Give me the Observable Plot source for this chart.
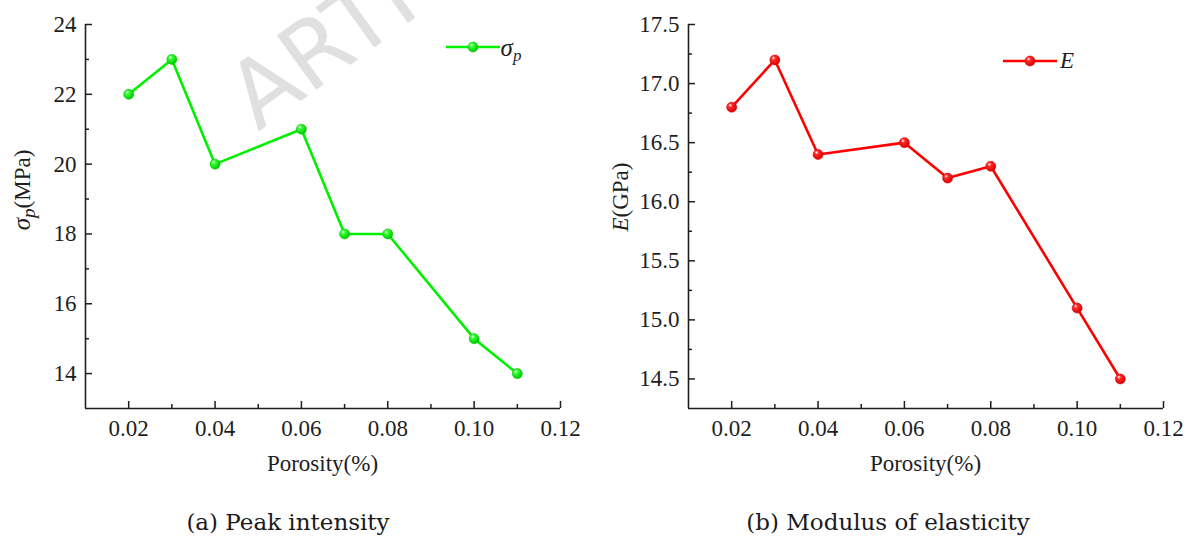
<!DOCTYPE html>
<html>
<head>
<meta charset="utf-8">
<script src="https://cdn.jsdelivr.net/npm/d3@7"></script>
<script src="https://cdn.jsdelivr.net/npm/@observablehq/plot@0.6"></script>
<style>
  html, body { margin: 0; padding: 0; background: #fff; }
  #wrap { position: relative; width: 1190px; height: 538px; overflow: hidden; }
  #bg { position: absolute; left: 0; top: 0; }
  .panel { position: absolute; top: 0; }
</style>
</head>
<body>
<div id="wrap">
  <svg id="bg" width="1190" height="538"></svg>
</div>
<script>
// ---- data ----
const porosity = [0.02, 0.03, 0.04, 0.06, 0.07, 0.08, 0.10, 0.11];
const peakStrength = [22, 23, 20, 21, 18, 18, 15, 14];
const modulus = [16.8, 17.2, 16.4, 16.5, 16.2, 16.3, 15.1, 14.5];

const xDomain = [0.01, 0.12];
const xTicksMajor = [0.02, 0.04, 0.06, 0.08, 0.10, 0.12];
const xTicksMinor = [0.03, 0.05, 0.07, 0.09, 0.11];

const yDomainA = [13, 24];
const yTicksMajorA = [14, 16, 18, 20, 22, 24];
const yTicksMinorA = [15, 17, 19, 21, 23];

const yDomainB = [14.25, 17.5];
const yTicksMajorB = [14.5, 15.0, 15.5, 16.0, 16.5, 17.0, 17.5];
const yTicksMinorB = [14.75, 15.25, 15.75, 16.25, 16.75, 17.25];

const captions = ["(a) Peak intensity", "(b) Modulus of elasticity"];
const xLabel = "Porosity(%)";

// ---- layout ----
const W = 595, H = 480, mL = 85, mR = 35, mT = 24, mB = 72;
const PW = W - mL - mR, PH = H - mT - mB;
const SERIF = "'Liberation Serif', 'Times New Roman', serif";
const AX = "#1e1e1e";

function panel({values, color, light, dark, gradId, yDomain, yMajor, yMinor, yFormat}) {
  const data = porosity.map((p, i) => ({p, v: values[i]}));
  const svg = Plot.plot({
    width: W, height: H,
    marginLeft: mL, marginRight: mR, marginTop: mT, marginBottom: mB,
    style: {fontFamily: SERIF, fontSize: "23px", background: "transparent", color: AX, overflow: "visible"},
    x: {domain: xDomain},
    y: {domain: yDomain},
    marks: [
      Plot.ruleX([xDomain[0]], {stroke: AX, strokeWidth: 1.6}),
      Plot.ruleY([yDomain[0]], {stroke: AX, strokeWidth: 1.6}),
      Plot.ruleX(xTicksMajor, {stroke: AX, strokeWidth: 1.5, insetTop: PH - 7}),
      Plot.ruleX(xTicksMinor, {stroke: AX, strokeWidth: 1.5, insetTop: PH - 4}),
      Plot.ruleY(yMajor, {stroke: AX, strokeWidth: 1.5, insetRight: PW - 7}),
      Plot.ruleY(yMinor, {stroke: AX, strokeWidth: 1.5, insetRight: PW - 4}),
      Plot.axisX({ticks: xTicksMajor, tickSize: 0, tickPadding: 11, tickFormat: d3.format(".2f"), label: null, fontSize: 23, fontFamily: SERIF}),
      Plot.axisY({ticks: yMajor, tickSize: 0, tickPadding: 9, tickFormat: yFormat, label: null, fontSize: 23, fontFamily: SERIF}),
      Plot.line(data, {x: "p", y: "v", stroke: color, strokeWidth: 2.6}),
      Plot.dot(data, {x: "p", y: "v", r: 5, fill: `url(#${gradId})`, stroke: dark, strokeWidth: 0.6})
    ]
  });
  const s = d3.select(svg);
  const g = s.append("defs").append("radialGradient")
    .attr("id", gradId).attr("cx", "38%").attr("cy", "35%").attr("r", "65%").attr("fx", "35%").attr("fy", "30%");
  g.append("stop").attr("offset", "0%").attr("stop-color", "#ffffff");
  g.append("stop").attr("offset", "30%").attr("stop-color", light);
  g.append("stop").attr("offset", "100%").attr("stop-color", dark);
  // x axis title
  s.append("text").attr("x", mL + PW / 2).attr("y", 471).attr("text-anchor", "middle")
    .attr("font-family", SERIF).attr("font-size", 23).attr("fill", AX).text(xLabel);
  return {svg, s};
}

const wrap = document.getElementById("wrap");

// Panel A
const A = panel({values: peakStrength, color: "#00f000", light: "#33ff33", dark: "#00c800", gradId: "gA",
  yDomain: yDomainA, yMajor: yTicksMajorA, yMinor: yTicksMinorA, yFormat: d3.format("d")});
A.svg.classList.add("panel"); A.svg.style.left = "0px";
wrap.appendChild(A.svg);
{
  const t = A.s.append("text").attr("transform", "translate(30,190) rotate(-90)").attr("text-anchor", "middle")
    .attr("font-family", SERIF).attr("font-size", 23).attr("fill", AX);
  t.append("tspan").attr("font-style", "italic").attr("font-size", 25).text("σ");
  t.append("tspan").attr("font-style", "italic").attr("font-size", 19).attr("dy", 5).text("p");
  t.append("tspan").attr("dy", -5).text("(MPa)");
  // legend
  const lg = A.s.append("g");
  lg.append("line").attr("x1", 446).attr("x2", 500).attr("y1", 47).attr("y2", 47).attr("stroke", "#00f000").attr("stroke-width", 2.6);
  lg.append("circle").attr("cx", 473).attr("cy", 47).attr("r", 5).attr("fill", "url(#gA)").attr("stroke", "#00c800").attr("stroke-width", 0.6);
  const lt = lg.append("text").attr("x", 511).attr("y", 56).attr("font-family", SERIF).attr("fill", AX);
  lt.append("tspan").attr("font-style", "italic").attr("font-size", 25).text("σ");
  lt.append("tspan").attr("font-style", "italic").attr("font-size", 17).attr("dy", 5).text("p");
}

// Panel B
const B = panel({values: modulus, color: "#ff0000", light: "#ff2a2a", dark: "#d80000", gradId: "gB",
  yDomain: yDomainB, yMajor: yTicksMajorB, yMinor: yTicksMinorB, yFormat: d3.format(".1f")});
B.svg.classList.add("panel"); B.svg.style.left = "603px";
wrap.appendChild(B.svg);
{
  const t = B.s.append("text").attr("transform", "translate(25,197) rotate(-90)").attr("text-anchor", "middle")
    .attr("font-family", SERIF).attr("font-size", 23).attr("fill", AX);
  t.append("tspan").attr("font-style", "italic").text("E");
  t.append("tspan").text("(GPa)");
  const lg = B.s.append("g");
  lg.append("line").attr("x1", 400).attr("x2", 454).attr("y1", 61).attr("y2", 61).attr("stroke", "#ff0000").attr("stroke-width", 2.6);
  lg.append("circle").attr("cx", 427).attr("cy", 61).attr("r", 5).attr("fill", "url(#gB)").attr("stroke", "#d80000").attr("stroke-width", 0.6);
  lg.append("text").attr("x", 464).attr("y", 68).attr("font-family", SERIF).attr("font-style", "italic")
    .attr("font-size", 23).attr("fill", AX).text("E");
}

// background: watermark + captions
const bg = d3.select("#bg");
bg.append("text").attr("transform", "translate(258,132) rotate(-36)")
  .attr("font-family", "'DejaVu Sans', sans-serif").attr("font-size", 92).attr("fill", "#e0e0e0")
  .text("ARTICLE IN PRESS");
bg.append("text").attr("x", 288).attr("y", 530).attr("text-anchor", "middle")
  .attr("font-family", "'DejaVu Serif', serif").attr("font-size", 23).attr("fill", "#1a1a1a").text(captions[0]);
bg.append("text").attr("x", 888).attr("y", 530).attr("text-anchor", "middle")
  .attr("font-family", "'DejaVu Serif', serif").attr("font-size", 23).attr("fill", "#1a1a1a").text(captions[1]);
</script>
</body>
</html>
